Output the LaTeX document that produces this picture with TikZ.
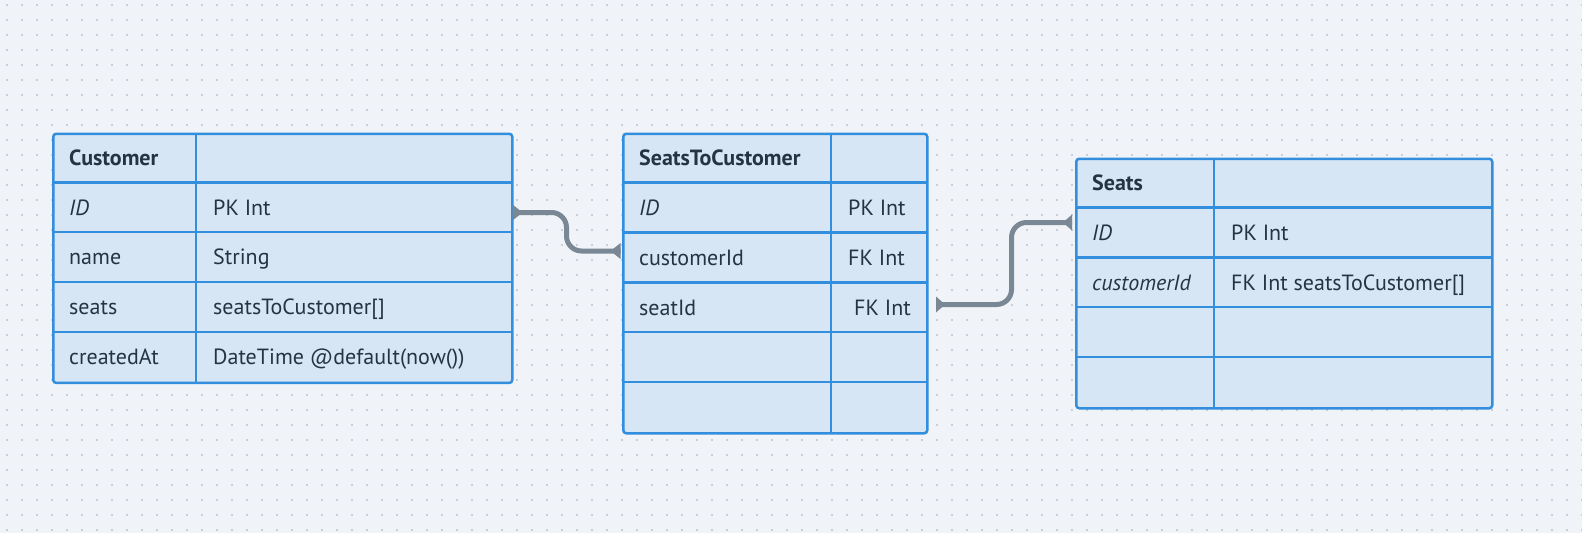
\documentclass[tikz,border=0pt]{standalone}
\usepackage{fontspec}
\setmainfont{PT Sans}
\definecolor{bgc}{RGB}{240,244,248}
\definecolor{dotc}{RGB}{200,207,215}
\definecolor{tblfill}{RGB}{214,230,245}
\definecolor{tblborder}{RGB}{52,142,222}
\definecolor{txt}{RGB}{38,52,66}
\definecolor{conncol}{RGB}{122,136,150}
\begin{document}
\begin{tikzpicture}[x=1pt,y=-1pt,
  tbl/.style={draw=tblborder, fill=tblfill, line width=2.5pt, rounded corners=3pt, inner sep=0pt, anchor=north west},
  gridline/.style={draw=tblborder, line width=2.5pt},
  cell/.style={anchor=west, inner sep=0pt, text height=15.7pt, text depth=0pt, font=\fontsize{22}{26}\selectfont, text=txt},
  hcell/.style={cell, font=\fontsize{22}{26}\selectfont\bfseries},
  icell/.style={cell, font=\fontsize{22}{26}\selectfont\itshape},
  conn/.style={draw=conncol, line width=5pt, rounded corners=15pt},
  tipfill/.style={fill=conncol}]
\useasboundingbox (0,0) rectangle (1582,533);
\fill[bgc] (0,0) rectangle (1582,533);
\foreach \j in {0,...,35}
  \draw[dotc, line width=2pt, dash pattern=on 2pt off 13pt] (5.7,{5+15*\j}) -- (1582,{5+15*\j});

% ---- Customer ----
\node[tbl, minimum width=459pt, minimum height=249.2pt] (cust) at (52,132.5) {};
\foreach \k in {1,...,4}
  \draw[gridline] (52,{132.5+49.84*\k}) -- (511,{132.5+49.84*\k});
\draw[gridline] (196,132.5) -- (196,381.7);
\node[hcell] (custH) at (69,157.4) {Customer};
\node[icell] (custR1a) at (69,207.3) {ID};
\node[cell] (custR1b) at (213,207.3) {PK Int};
\node[cell] (custR2a) at (69,257.1) {name};
\node[cell] (custR2b) at (213,257.1) {String};
\node[cell] (custR3a) at (69,307) {seats};
\node[cell] (custR3b) at (213,307) {seatsToCustomer[]};
\node[cell] (custR4a) at (69,356.8) {createdAt};
\node[cell] (custR4b) at (213,356.8) {DateTime @default(now())};

% ---- SeatsToCustomer ----
\node[tbl, minimum width=304pt, minimum height=299.5pt] (stc) at (622,132.5) {};
\foreach \k in {1,...,5}
  \draw[gridline] (622,{132.5+49.92*\k}) -- (926,{132.5+49.92*\k});
\draw[gridline] (831,132.5) -- (831,432);
\node[hcell] (stcH) at (639,157.5) {SeatsToCustomer};
\node[icell] (stcR1a) at (639,207.4) {ID};
\node[cell] (stcR1b) at (848,207.4) {PK Int};
\node[cell] (stcR2a) at (639,257.3) {customerId};
\node[cell] (stcR2b) at (848,257.3) {FK Int};
\node[cell] (stcR3a) at (639,307.2) {seatId};
\node[cell] (stcR3b) at (854,307.2) {FK Int};

% ---- Seats ----
\node[tbl, minimum width=416pt, minimum height=249.5pt] (seats) at (1075,157.5) {};
\foreach \k in {1,...,4}
  \draw[gridline] (1075,{157.5+49.9*\k}) -- (1491,{157.5+49.9*\k});
\draw[gridline] (1214,157.5) -- (1214,407);
\node[hcell] (seatsH) at (1092,182.5) {Seats};
\node[icell] (seatsR1a) at (1092,232.4) {ID};
\node[cell] (seatsR1b) at (1231,232.4) {PK Int};
\node[icell] (seatsR2a) at (1092,282.3) {customerId};
\node[cell] (seatsR2b) at (1231,282.3) {FK Int seatsToCustomer[]};

% ---- connectors ----
\coordinate (c1s) at (512.5,212.5);
\coordinate (c1m1) at (566.5,212.5);
\coordinate (c1m2) at (566.5,251);
\coordinate (c1e) at (620.5,251);
\draw[conn] (c1s) -- (c1m1) -- (c1m2) -- (c1e);
\fill[tipfill] (c1s) ++(0,-8) -- ++(10,8) -- ++(-10,8) -- cycle;
\fill[tipfill] (c1e) ++(0,-8) -- ++(-10,8) -- ++(10,8) -- cycle;

\coordinate (c2s) at (936,304.5);
\coordinate (c2m1) at (1011.5,304.5);
\coordinate (c2m2) at (1011.5,222.5);
\coordinate (c2e) at (1072,222.5);
\draw[conn] (c2s) -- (c2m1) -- (c2m2) -- (c2e);
\fill[tipfill] (c2s) ++(0,-8) -- ++(9,8) -- ++(-9,8) -- cycle;
\fill[tipfill] (c2e) ++(0,-8) -- ++(-9,8) -- ++(9,8) -- cycle;
\end{tikzpicture}
\end{document}
